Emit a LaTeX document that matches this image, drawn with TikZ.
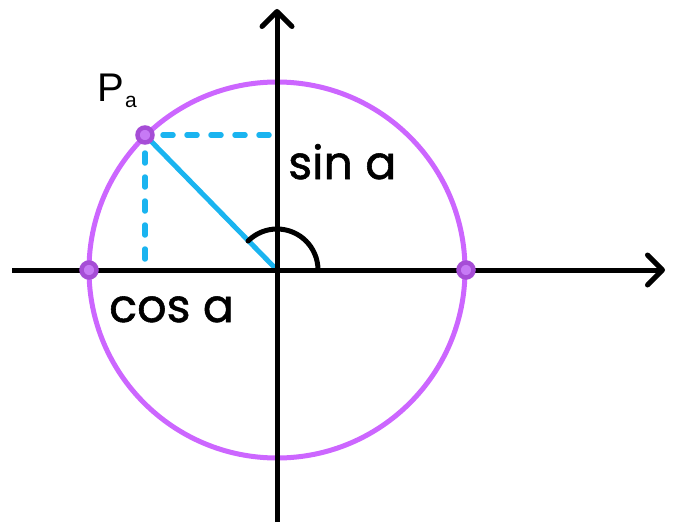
\documentclass[tikz,border=0pt]{standalone}
\usepackage{fontspec}
\setmainfont{Poppins}[FakeBold=1.2]
\newfontfamily\arialfont{Liberation Sans}
\usetikzlibrary{arrows.meta}
\definecolor{circ}{HTML}{CC66FF}
\definecolor{cyanl}{HTML}{1AB4F0}
\definecolor{ptfill}{HTML}{A64DD6}
\definecolor{ptcore}{HTML}{C77AF5}
\tikzset{
  axis/.style={line width=5pt, -{Straight Barb[length=15pt,width=30pt,line width=5pt,round]}},
  unitcirc/.style={draw=circ, line width=5pt},
  dashseg/.style={draw=cyanl, line width=5.5pt, line cap=round},
  radius line/.style={draw=cyanl, line width=5pt},
  pt/.style={circle, fill=ptcore, draw=ptfill, line width=4.5pt, minimum size=15pt, inner sep=0pt},
  lbl/.style={font=\fontsize{46}{50}\selectfont, anchor=base west, inner sep=0pt},
}
\begin{document}
\begin{tikzpicture}[x=1pt,y=-1pt]
\useasboundingbox (0,0) rectangle (677,524);
\coordinate (O) at (277,270);
\coordinate (xl) at (12,270);
\coordinate (xr) at (665,270);
\coordinate (yb) at (277,522);
\coordinate (yt) at (277,9);
\coordinate (Pc) at (145,135);
\path[unitcirc] (O) circle[radius=188];
\foreach \s in {18,42,66,90,114} {
  \path[dashseg] ([xshift=\s pt]Pc) -- ([xshift=\s pt+10pt]Pc);
  \path[dashseg] ([yshift=-\s pt]Pc) -- ([yshift=-\s pt-10pt]Pc);
}
\path[radius line] (Pc) -- (O);
\draw[line width=5pt, line cap=round] (318,270) arc[start angle=0, end angle=-135, radius=41];
\draw[axis] (xl) -- (xr);
\draw[axis] (yb) -- (yt);
\node[pt] (P) at (Pc) {};
\node[pt] (A) at (89,270) {};
\node[pt] (B) at (466,270) {};
\node[lbl] (sinl) at (288,179) {sin a};
\node[lbl] (cosl) at (109,322) {cos a};
\node[lbl, font=\arialfont\fontsize{40}{44}\selectfont] (pl) at (97,102) {P};
\node[lbl, font=\arialfont\fontsize{21}{24}\selectfont] (al) at (125,108) {a};
\end{tikzpicture}
\end{document}
